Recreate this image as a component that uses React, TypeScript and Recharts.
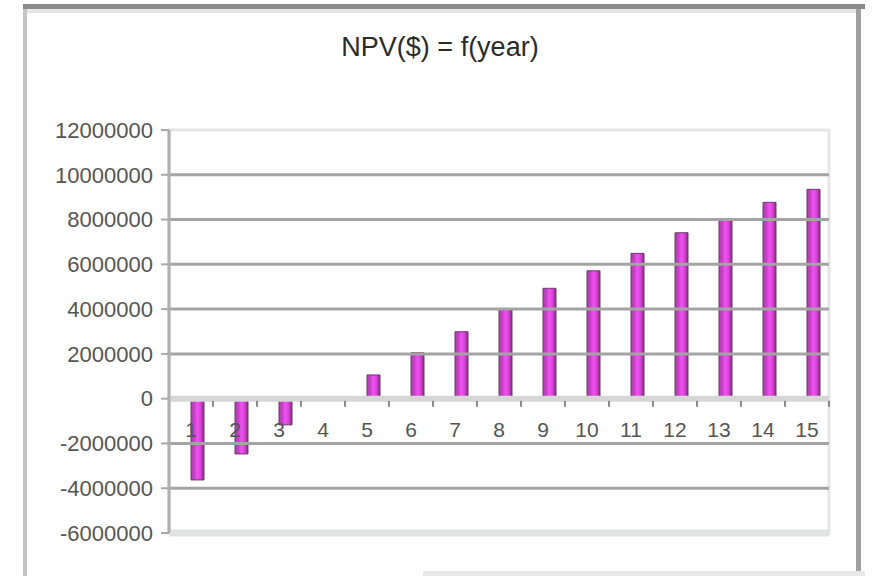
import { BarChart, Bar, XAxis, YAxis, CartesianGrid, ReferenceLine, ReferenceArea } from "recharts";

// NPV by project year
const years = ["1", "2", "3", "4", "5", "6", "7", "8", "9", "10", "11", "12", "13", "14", "15"];
const npv = [
  -3630000, -2470000, -1170000, -60000, 1060000, 2050000, 2990000, 4000000,
  4930000, 5710000, 6490000, 7410000, 8010000, 8770000, 9350000,
];
const yTicks = [12000000, 10000000, 8000000, 6000000, 4000000, 2000000, 0, -2000000, -4000000, -6000000];
const gridValues = [10000000, 8000000, 6000000, 4000000, 2000000, -2000000, -4000000];

// empty first series: Excel left a slot for it, which pushes the NPV bar right of centre
const data = years.map((year, i) => ({ year, spacer: null, npv: npv[i] }));

const W = 877;
const H = 576;
const PLOT = { left: 169, right: 829, top: 130, bottom: 533 };
const Y_MIN = -6000000;
const Y_MAX = 12000000;
const zeroY = PLOT.top + (Y_MAX / (Y_MAX - Y_MIN)) * (PLOT.bottom - PLOT.top);
const band = (PLOT.right - PLOT.left) / years.length;
const FONT = "'Liberation Sans', Arial, sans-serif";

// category labels sit just under the zero line, ticks mark the category boundaries
// eslint-disable-next-line @typescript-eslint/no-explicit-any
const XTick = (props: any) => {
  const { x, payload } = props;
  return (
    <g>
      <line x1={x + band / 2} x2={x + band / 2} y1={zeroY + 2} y2={zeroY + 8} stroke="#8a8a8a" strokeWidth={2} />
      <text x={x} y={zeroY + 31} textAnchor="middle" dominantBaseline="central" fontSize={21} fill="#555" fontFamily={FONT}>
        {payload.value}
      </text>
    </g>
  );
};

const box = (left: number, top: number, width: number, height: number, background: string) => (
  <div style={{ position: "absolute", left, top, width, height, background }} />
);

export default function App() {
  return (
    <div style={{ position: "absolute", left: 0, top: 0, width: W, height: H, background: "#fff", fontFamily: FONT }}>
      {box(23, 4, 842, 5, "#8c8c8c")}
      {box(27, 9, 830, 4, "#e6e6e6")}
      {box(23, 9, 4, H - 9, "#c4c4c4")}
      {box(856, 9, 5, H - 9, "#a0a0a0")}
      {box(423, 571, 442, 5, "#e8e8e8")}
      <div
        style={{
          position: "absolute",
          left: 290,
          top: 32,
          width: 300,
          textAlign: "center",
          fontSize: 27,
          color: "#2a2a2a",
        }}
      >
        NPV($) = f(year)
      </div>
      <div style={{ position: "absolute", left: 0, top: 0 }}>
        <BarChart
          width={W}
          height={H}
          data={data}
          margin={{ top: PLOT.top, right: W - PLOT.right, bottom: H - PLOT.bottom - 30, left: PLOT.left - 120 }}
          barGap={0}
          barCategoryGap={0}
          style={{ fontFamily: FONT }}
        >
          <defs>
            <linearGradient id="barFill" x1="0" y1="0" x2="1" y2="0">
              <stop offset="0%" stopColor="#9a4a9a" />
              <stop offset="25%" stopColor="#cc3ccc" />
              <stop offset="50%" stopColor="#f052f0" />
              <stop offset="78%" stopColor="#d040d0" />
              <stop offset="100%" stopColor="#7a2a72" />
            </linearGradient>
          </defs>
          <CartesianGrid vertical={false} horizontal={false} />
          <ReferenceArea y1={Y_MIN} y2={Y_MAX} fill="none" stroke="#e6e6e6" strokeWidth={3} />
          <ReferenceLine y={Y_MIN} stroke="#e2e4e3" strokeWidth={7} />
          {gridValues.map((v) => (
            <ReferenceLine key={v} y={v} stroke="#a4a4a4" strokeWidth={3} />
          ))}
          <ReferenceLine y={0} stroke="#d6d6d6" strokeWidth={6} />
          <XAxis dataKey="year" axisLine={false} tickLine={false} height={30} interval={0} tick={(p) => <XTick {...p} />} />
          <YAxis
            width={120}
            domain={[Y_MIN, Y_MAX]}
            ticks={yTicks}
            interval={0}
            allowDataOverflow
            axisLine={{ stroke: "#b0b0b0", strokeWidth: 3 }}
            tickLine={{ stroke: "#a8a8a8", strokeWidth: 2 }}
            tickSize={8}
            tickMargin={8}
            tick={{ fontSize: 22, fill: "#555" }}
          />
          <Bar dataKey="spacer" barSize={13} isAnimationActive={false} fill="none" />
          <Bar dataKey="npv" barSize={13} fill="url(#barFill)" stroke="#6e3a6e" strokeWidth={1} isAnimationActive={false} />
        </BarChart>
      </div>
    </div>
  );
}
